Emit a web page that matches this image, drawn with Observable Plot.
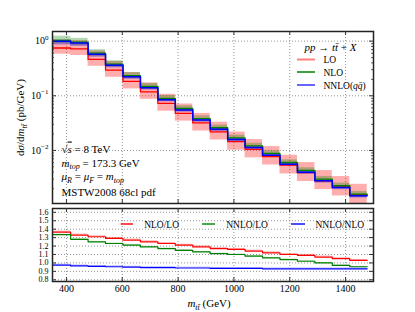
<!DOCTYPE html>
<html><head><meta charset="utf-8">
<script src="https://cdn.jsdelivr.net/npm/d3@7"></script>
<script src="https://cdn.jsdelivr.net/npm/@observablehq/plot@0.6"></script>
<style>
body{margin:0;background:#fff;}
#wrap{position:relative;width:415px;height:312px;overflow:hidden;}
#wrap svg{position:absolute;left:0;}
</style></head><body><div id="wrap"></div>
<script>
// ---- data ----
const binEdges = [352.5,415,477.5,540,602.5,665,727.5,790,852.5,915,977.5,1040,1102.5,1165,1227.5,1290,1352.5,1415,1477.5];
const nnlo = [1.0,0.92,0.577,0.363,0.222,0.141,0.085,0.055,0.036,0.0243,0.0159,0.0113,0.0082,0.0056,0.0040,0.00278,0.0021,0.00148];
const nlo  = [1.026,0.953,0.601,0.380,0.234,0.149,0.090,0.0585,0.0383,0.0260,0.0170,0.0121,0.00882,0.00602,0.0043,0.00299,0.00226,0.00159];
const lo   = [0.749,0.719,0.462,0.295,0.183,0.118,0.0726,0.0478,0.0319,0.0219,0.01445,0.01046,0.00774,0.00538,0.00392,0.00278,0.00216,0.00155];
// relative scale uncertainties (up / down)
const loUp     = [0.40,0.42,0.43,0.44,0.45,0.46,0.47,0.48,0.49,0.50,0.50,0.51,0.52,0.52,0.53,0.54,0.54,0.55];
const loDown   = [0.23,0.24,0.25,0.26,0.27,0.27,0.28,0.28,0.29,0.29,0.30,0.30,0.30,0.31,0.31,0.31,0.32,0.32];
const nloUp    = [0.20,0.18,0.16,0.15,0.14,0.13,0.12,0.12,0.12,0.12,0.12,0.12,0.12,0.12,0.12,0.12,0.12,0.12];
const nloDown  = [0.13,0.13,0.13,0.12,0.12,0.12,0.12,0.12,0.12,0.12,0.12,0.12,0.12,0.12,0.12,0.12,0.12,0.12];
const nnloUp   = [0.04,0.04,0.04,0.04,0.04,0.04,0.04,0.04,0.04,0.04,0.04,0.04,0.04,0.04,0.04,0.04,0.04,0.04];
const nnloDown = [0.15,0.13,0.12,0.11,0.10,0.10,0.09,0.09,0.09,0.09,0.09,0.09,0.09,0.09,0.09,0.09,0.09,0.09];
// ratios (bottom panel)
const ratioNloLo   = [1.365,1.33,1.31,1.29,1.27,1.25,1.23,1.21,1.19,1.17,1.16,1.14,1.12,1.10,1.09,1.07,1.05,1.03];
const ratioNnloLo  = [1.335,1.28,1.25,1.23,1.21,1.19,1.17,1.15,1.13,1.11,1.10,1.08,1.06,1.04,1.02,1.00,0.97,0.955];
const ratioNnloNlo = [0.975,0.965,0.96,0.955,0.95,0.945,0.945,0.94,0.94,0.935,0.935,0.935,0.93,0.93,0.93,0.93,0.93,0.93];
const ratioBandNloLo = 0.012, ratioBandNnloLo = 0.010, ratioBandNnloNlo = 0.010;
// ticks
const xTicks = [400,600,800,1000,1200,1400];
const yTicksTop = [1,0.1,0.01];
const yMinorTop = [0.002,0.003,0.004,0.005,0.006,0.007,0.008,0.009,0.02,0.03,0.04,0.05,0.06,0.07,0.08,0.09,0.2,0.3,0.4,0.5,0.6,0.7,0.8,0.9];
const yTicksBottom = [0.8,0.9,1.0,1.1,1.2,1.3,1.4,1.5,1.6];
const topLabels = {1:"E0",0.1:"E-1",0.01:"E-2"};

// ---- tables ----
const bins = binEdges.slice(0,-1).map((x1,i)=>({
  x1, x2: binEdges[i+1],
  lo: lo[i], loLo: lo[i]*(1-loDown[i]), loHi: lo[i]*(1+loUp[i]),
  nlo: nlo[i], nloLo: nlo[i]*(1-nloDown[i]), nloHi: nlo[i]*(1+nloUp[i]),
  nnlo: nnlo[i], nnloLo: nnlo[i]*(1-nnloDown[i]), nnloHi: nnlo[i]*(1+nnloUp[i]),
  r1: ratioNloLo[i], r2: ratioNnloLo[i], r3: ratioNnloNlo[i]
}));
function steps(vals){
  const pts = vals.map((v,i)=>({x:binEdges[i], y:v}));
  pts.push({x:binEdges[binEdges.length-1], y:vals[vals.length-1]});
  return pts;
}

const W = 415, ML = 52, MR = 42;
const FW = W - ML - MR;
const font = "Liberation Serif";
const gridStyle = {stroke:"#888", strokeOpacity:1, strokeDasharray:"1,2", strokeWidth:0.9};
const tickCol = "#333";

// ---- top panel ----
const topH = 205, topMT = 31, topMB = 2;
const topFH = topH - topMT - topMB;
const topPlot = Plot.plot({
  width: W, height: topH, marginLeft: ML, marginRight: MR, marginTop: topMT, marginBottom: topMB,
  style: {fontFamily: font, fontSize: "10px", background: "transparent"},
  x: {domain: [350,1500], axis: null},
  y: {type: "log", domain: [1.07e-3, 1.5]},
  marks: [
    Plot.gridX(xTicks, gridStyle),
    Plot.gridY(yTicksTop, gridStyle),
    Plot.rect(bins, {x1:"x1", x2:"x2", y1:"loLo", y2:"loHi", fill:"#ff0000", fillOpacity:0.32, clip:true}),
    Plot.rect(bins, {x1:"x1", x2:"x2", y1:"nloLo", y2:"nloHi", fill:"#008000", fillOpacity:0.3, clip:true}),
    Plot.rect(bins, {x1:"x1", x2:"x2", y1:"nnloLo", y2:"nnloHi", fill:"#0000ff", fillOpacity:0.3, clip:true}),
    Plot.line(steps(lo), {x:"x", y:"y", curve:"step-after", stroke:"#ff0000", strokeWidth:1.3, clip:true}),
    Plot.line(steps(nlo), {x:"x", y:"y", curve:"step-after", stroke:"#008000", strokeWidth:1.3, clip:true}),
    Plot.line(steps(nnlo), {x:"x", y:"y", curve:"step-after", stroke:"#0000ff", strokeWidth:1.5, clip:true}),
    Plot.frame({stroke:"#222", strokeWidth:1.5}),
    Plot.tickY(yTicksTop, {y:d=>d, insetRight: FW-4, stroke:tickCol}),
    Plot.tickY(yTicksTop, {y:d=>d, insetLeft: FW-4, stroke:tickCol}),
    Plot.tickY(yMinorTop, {y:d=>d, insetRight: FW-2, stroke:tickCol, strokeWidth:0.8}),
    Plot.tickY(yMinorTop, {y:d=>d, insetLeft: FW-2, stroke:tickCol, strokeWidth:0.8}),
    Plot.tickX(xTicks, {x:d=>d, insetBottom: topFH-4, stroke:tickCol}),
    Plot.tickX(xTicks, {x:d=>d, insetTop: topFH-4, stroke:tickCol}),
    Plot.axisY({ticks: yTicksTop, tickSize: 0, tickPadding: 4, tickFormat: d=>topLabels[d], label: null, fontSize: 10}),
    Plot.text(["YLABEL"], {frameAnchor:"left", rotate:-90, dx:-32, textAnchor:"middle", lineAnchor:"middle", fontSize:11}),
    Plot.text(["ANN1"], {frameAnchor:"bottom-left", dx:9, dy:-54.5, textAnchor:"start", lineAnchor:"middle", fontSize:11}),
    Plot.text(["ANN2"], {frameAnchor:"bottom-left", dx:9, dy:-40.5, textAnchor:"start", lineAnchor:"middle", fontSize:11}),
    Plot.text(["ANN3"], {frameAnchor:"bottom-left", dx:9, dy:-27, textAnchor:"start", lineAnchor:"middle", fontSize:11}),
    Plot.text(["MSTW2008 68cl pdf"], {frameAnchor:"bottom-left", dx:9, dy:-11.5, textAnchor:"start", lineAnchor:"middle", fontSize:11}),
    Plot.text(["LEGTITLE"], {frameAnchor:"top-right", dx:-43, dy:15.5, textAnchor:"middle", lineAnchor:"middle", fontSize:11}),
    Plot.text(["LO"], {frameAnchor:"top-right", dx:-(373-323), dy:28.5, textAnchor:"start", lineAnchor:"middle", fontSize:9.5}),
    Plot.text(["NLO"], {frameAnchor:"top-right", dx:-(373-323), dy:41, textAnchor:"start", lineAnchor:"middle", fontSize:9.5}),
    Plot.text(["NNLOQQ"], {frameAnchor:"top-right", dx:-(373-323), dy:54, textAnchor:"start", lineAnchor:"middle", fontSize:9.5})
  ]
});

// ---- bottom panel ----
const botTop = 205, botH = 107, botMT = 3, botMB = 31;
const botFH = botH - botMT - botMB;
const botPlot = Plot.plot({
  width: W, height: botH, marginLeft: ML, marginRight: MR, marginTop: botMT, marginBottom: botMB,
  style: {fontFamily: font, fontSize: "10px", background: "transparent"},
  x: {domain: [350,1500]},
  y: {domain: [0.78, 1.645]},
  marks: [
    Plot.gridX(xTicks, gridStyle),
    Plot.gridY(yTicksBottom, gridStyle),
    Plot.rect(bins, {x1:"x1", x2:"x2", y1:"r1", y2:d=>d.r1+ratioBandNloLo, fill:"#ff0000", fillOpacity:0.3}),
    Plot.rect(bins, {x1:"x1", x2:"x2", y1:d=>d.r2-ratioBandNnloLo/2, y2:d=>d.r2+ratioBandNnloLo/2, fill:"#008000", fillOpacity:0.3}),
    Plot.rect(bins, {x1:"x1", x2:"x2", y1:"r3", y2:d=>d.r3+ratioBandNnloNlo, fill:"#0000ff", fillOpacity:0.3}),
    Plot.line(steps(ratioNloLo), {x:"x", y:"y", curve:"step-after", stroke:"#ff0000", strokeWidth:1.2}),
    Plot.line(steps(ratioNnloLo), {x:"x", y:"y", curve:"step-after", stroke:"#008000", strokeWidth:1.2}),
    Plot.line(steps(ratioNnloNlo), {x:"x", y:"y", curve:"step-after", stroke:"#0000ff", strokeWidth:1.2}),
    Plot.frame({stroke:"#222", strokeWidth:1.5}),
    Plot.tickY(yTicksBottom, {y:d=>d, insetRight: FW-4, stroke:tickCol}),
    Plot.tickY(yTicksBottom, {y:d=>d, insetLeft: FW-4, stroke:tickCol}),
    Plot.tickX(xTicks, {x:d=>d, insetBottom: botFH-4, stroke:tickCol}),
    Plot.tickX(xTicks, {x:d=>d, insetTop: botFH-4, stroke:tickCol}),
    Plot.axisY({ticks: yTicksBottom, tickSize: 0, tickPadding: 4, tickFormat: d3.format(".1f"), label: null, fontSize: 8}),
    Plot.axisX({ticks: xTicks, tickSize: 0, tickPadding: 3, tickFormat: d=>String(d), label: null, fontSize: 10}),
    Plot.text(["XLABEL"], {frameAnchor:"bottom", dx:-4, dy:22, textAnchor:"middle", lineAnchor:"middle", fontSize:11}),
    Plot.text(["NLO/LO"], {frameAnchor:"top-left", dx:143.7-ML, dy:16, textAnchor:"start", lineAnchor:"middle", fontSize:9.5}),
    Plot.text(["NNLO/LO"], {frameAnchor:"top-left", dx:225.7-ML, dy:16, textAnchor:"start", lineAnchor:"middle", fontSize:9.5}),
    Plot.text(["NNLO/NLO"], {frameAnchor:"top-left", dx:315-ML, dy:16, textAnchor:"start", lineAnchor:"middle", fontSize:9.5})
  ]
});

// ---- rich text ----
const sub = (s)=>`<tspan font-style="italic" font-size="8" dy="2.5">${s}</tspan>`;
const it = (s)=>`<tspan font-style="italic">${s}</tspan>`;
const rich = {
  "E0": `10<tspan font-size="7" dy="-4.5">0</tspan>`,
  "E-1": `10<tspan font-size="7" dy="-4.5">−1</tspan>`,
  "E-2": `10<tspan font-size="7" dy="-4.5">−2</tspan>`,
  "YLABEL": `d${it("σ")}/d${it("m")}${sub("tt\u0304")}<tspan dy="-2.5"> (pb/GeV)</tspan>`,
  "XLABEL": `${it("m")}${sub("tt\u0304")}<tspan dy="-2.5"> (GeV)</tspan>`,
  "ANN1": `√<tspan font-style="italic" text-decoration="overline">s</tspan> = 8 TeV`,
  "ANN2": `${it("m")}${sub("top")}<tspan dy="-2.5"> = 173.3 GeV</tspan>`,
  "ANN3": `${it("μ")}${sub("R")}<tspan dy="-2.5"> = </tspan>${it("μ")}${sub("F")}<tspan dy="-2.5"> = </tspan>${it("m")}${sub("top")}`,
  "LEGTITLE": `${it("pp")} → ${it("tt\u0304")} + ${it("X")}`,
  "NNLOQQ": `NNLO(${it("qq\u0304")})`
};
function applyRich(svg){
  d3.select(svg).selectAll("text").each(function(){
    const t = this.textContent;
    if (Object.prototype.hasOwnProperty.call(rich, t)) this.innerHTML = rich[t];
  });
}
applyRich(topPlot); applyRich(botPlot);

// ---- legend samples ----
function sample(svg, x1, x2, y, color, op){
  d3.select(svg).append("line").attr("x1",x1).attr("x2",x2).attr("y1",y).attr("y2",y)
    .attr("stroke",color).attr("stroke-opacity",op).attr("stroke-width",2);
}
sample(topPlot, 297, 315, 59.5, "#ff0000", 0.5);
sample(topPlot, 297, 315, 72, "#008000", 0.75);
sample(topPlot, 297, 315, 85, "#0000ff", 0.6);
sample(botPlot, 120.7, 133, 16+botMT, "#ff0000", 0.7);
sample(botPlot, 202, 215, 16+botMT, "#008000", 0.7);
sample(botPlot, 291, 305, 16+botMT, "#0000ff", 0.7);

const wrap = document.getElementById("wrap");
topPlot.style.top = "0px";
botPlot.style.top = botTop + "px";
wrap.appendChild(topPlot);
wrap.appendChild(botPlot);
</script></body></html>
